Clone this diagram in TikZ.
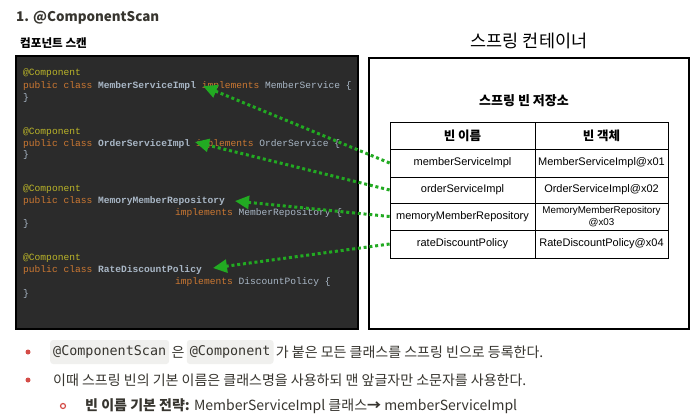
\documentclass[tikz,border=0pt]{standalone}
\usepackage{fontspec}
\setmainfont{Liberation Sans}
\newfontfamily\kr{Noto Sans CJK KR}
\newfontfamily\cmono{Liberation Mono}
\newfontfamily\imono{DejaVu Sans Mono}
\usetikzlibrary{arrows.meta}
\definecolor{codebg}{HTML}{2B2B2B}
\definecolor{anno}{HTML}{BBB529}
\definecolor{kw}{HTML}{CC7832}
\definecolor{cls}{HTML}{A9B7C6}
\definecolor{arrowgreen}{RGB}{34,170,34}
\definecolor{txt}{HTML}{37352F}
\definecolor{bul}{HTML}{D44C47}
\definecolor{inl}{HTML}{F0F0EE}
\begin{document}
\begin{tikzpicture}[x=1pt,y=-1pt,
 codeline/.style={anchor=base west, inner sep=0, font=\cmono\fontsize{9.6}{11}\selectfont, text=cls},
 cell/.style={draw=black, line width=0.8pt, inner sep=0, font=\fontsize{11}{12}\selectfont, align=center},
 lcell/.style={cell, minimum width=145pt},
 rcell/.style={cell, minimum width=133pt},
 hfont/.style={font=\kr\bfseries\fontsize{12.5}{14}\selectfont},
 link/.style={draw=arrowgreen, line width=3pt, dash pattern=on 3pt off 2.8pt, -{Triangle[length=14pt,width=13pt]}},
 body/.style={inner sep=0, text=txt, font=\kr\fontsize{14}{17}\selectfont, anchor=west},
 inlinecode/.style={fill=inl, rounded corners=3pt, inner xsep=3pt, inner ysep=0pt, text=txt, font=\imono\fontsize{13.4}{16}\selectfont, minimum height=24pt, anchor=west},
]
\useasboundingbox (0,0) rectangle (698,415);
\fill[white] (0,0) rectangle (698,415);

% titles
\node[font=\kr\bfseries\fontsize{13.4}{16}\selectfont, anchor=west, inner sep=0, text=txt] (title) at (16,18) {1. @ComponentScan};
\node[font=\kr\bfseries\fontsize{11.6}{13}\selectfont, anchor=west, inner sep=0] (scanlbl) at (20,43) {컴포넌트 스캔};
\node[font=\kr\fontsize{17.5}{20}\selectfont, inner sep=0] (ctitle) at (529,41) {스프링 컨테이너};

% boxes
\node[draw=black, fill=codebg, line width=2pt, minimum width=342pt, minimum height=273pt, inner sep=0] (code) at (187,192.5) {};
\node[draw=black, fill=white, line width=2pt, minimum width=320pt, minimum height=271pt, inner sep=0] (container) at (529,193.5) {};

% code lines
\node[codeline, text=anno] (c1a) at (23,75.3) {@Component};
\node[codeline] (c1b) at (23,88.3) {\textcolor{kw}{public class} \textbf{MemberServiceImpl} \textcolor{kw}{implements} MemberService \{};
\node[codeline] (c1c) at (23,100.3) {\}};
\node[codeline, text=anno] (c2a) at (23,134.3) {@Component};
\node[codeline] (c2b) at (23,146.3) {\textcolor{kw}{public class} \textbf{OrderServiceImpl} \textcolor{kw}{implements} OrderService \{};
\node[codeline] (c2c) at (23,157.3) {\}};
\node[codeline, text=anno] (c3a) at (23,191.3) {@Component};
\node[codeline] (c3b) at (23,203.3) {\textcolor{kw}{public class} \textbf{MemoryMemberRepository}};
\node[codeline] (c3c) at (175,215.3) {\textcolor{kw}{implements} MemberRepository \{};
\node[codeline] (c3d) at (23,226.3) {\}};
\node[codeline, text=anno] (c4a) at (23,260.3) {@Component};
\node[codeline] (c4b) at (23,272.3) {\textcolor{kw}{public class} \textbf{RateDiscountPolicy}};
\node[codeline] (c4c) at (175,284.3) {\textcolor{kw}{implements} DiscountPolicy \{};
\node[codeline] (c4d) at (23,296.3) {\}};

% repository
\node[font=\kr\bfseries\fontsize{13}{15}\selectfont, inner sep=0] (repo) at (524,101) {스프링 빈 저장소};
\node[lcell, minimum height=27pt, hfont] (h1) at (462.5,135.5) {빈 이름};
\node[rcell, minimum height=27pt, hfont] (h2) at (601.5,135.5) {빈 객체};
\node[lcell, minimum height=28pt] (r1a) at (462.5,163) {memberServiceImpl};
\node[rcell, minimum height=28pt] (r1b) at (601.5,163) {MemberServiceImpl@x01};
\node[lcell, minimum height=26pt] (r2a) at (462.5,190) {orderServiceImpl};
\node[rcell, minimum height=26pt] (r2b) at (601.5,190) {OrderServiceImpl@x02};
\node[lcell, minimum height=27pt] (r3a) at (462.5,216.5) {memoryMemberRepository};
\node[rcell, minimum height=27pt, font=\fontsize{9.8}{12}\selectfont] (r3b) at (601.5,216.5) {MemoryMemberRepository\\@x03};
\node[lcell, minimum height=28pt] (r4a) at (462.5,244) {rateDiscountPolicy};
\node[rcell, minimum height=28pt] (r4b) at (601.5,244) {RateDiscountPolicy@x04};

% arrows
\coordinate (t1) at (203,86);
\coordinate (t2) at (195,142);
\coordinate (t3) at (235,201);
\coordinate (t4) at (213,268);
\draw[link] (r1a.west) -- (t1);
\draw[link] (r2a.west) -- (t2);
\draw[link] (r3a.west) -- (t3);
\draw[link] (r4a.west) -- (t4);

% bullets
\node[circle, fill=bul, minimum size=5pt, inner sep=0] (b1) at (28,352) {};
\node[inlinecode] (ic1) at (50,352) {@ComponentScan};
\node[body] (l1a) at ([xshift=2pt]ic1.east) {은};
\node[inlinecode] (ic2) at ([xshift=2pt]l1a.east) {@Component};
\node[body] (l1b) at ([xshift=2pt]ic2.east) {가 붙은 모든 클래스를 스프링 빈으로 등록한다.};
\node[circle, fill=bul, minimum size=5pt, inner sep=0] (b2) at (28,380) {};
\node[body] (l2) at (53,380) {이때 스프링 빈의 기본 이름은 클래스명을 사용하되 맨 앞글자만 소문자를 사용한다.};
\node[circle, draw=bul, line width=1.2pt, minimum size=5pt, inner sep=0] (b3) at (63,406) {};
\node[body] (l3) at (85,406) {\bfseries 빈 이름 기본 전략:\mdseries{} MemberServiceImpl 클래스{\bfseries →} memberServiceImpl};
\end{tikzpicture}
\end{document}
